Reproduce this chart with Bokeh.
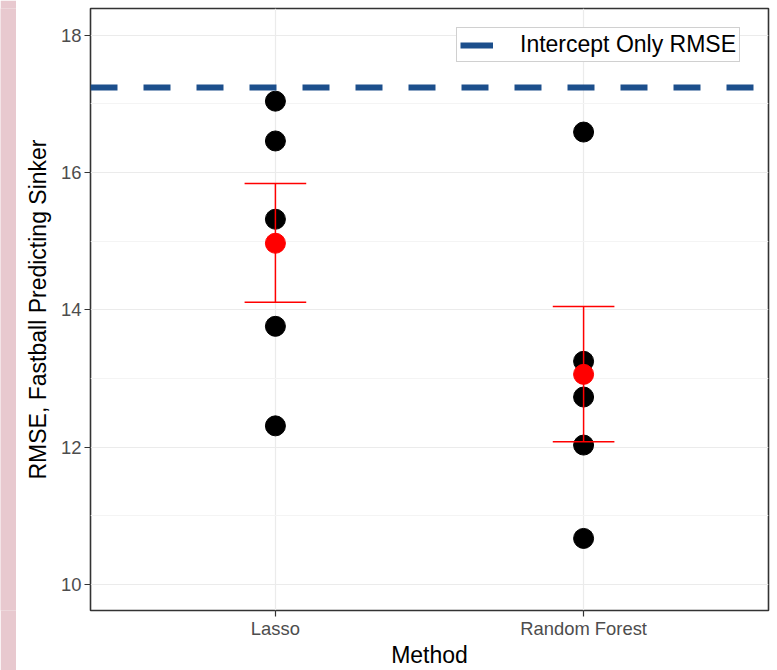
from bokeh.plotting import figure
from bokeh.models import Range1d, FixedTicker, Legend, LegendItem
from bokeh.layouts import row
from bokeh.embed import file_html
from bokeh.resources import INLINE

# ---- data ----
methods = ["Lasso", "Random Forest"]
method_pos = [1, 2]
lasso_rmse = [17.04, 16.46, 15.32, 13.76, 12.31]
rf_rmse = [16.59, 13.25, 12.73, 12.03, 10.67]
mean_rmse = [14.97, 13.06]
err_low = [14.11, 12.08]
err_high = [15.84, 14.05]
intercept_rmse = 17.24
y_ticks = [10, 12, 14, 16, 18]
y_minor = [11, 13, 15, 17]

FONT = "Liberation Sans"
X_START, X_END = 0.4, 2.6

strip = figure(width=16, height=670, toolbar_location=None, output_backend="svg",
               min_border=0, x_axis_type=None, y_axis_type=None)
strip.outline_line_color = None
strip.background_fill_color = "#e8c9cf"
strip.border_fill_color = "#e8c9cf"
strip.grid.visible = False

p = figure(width=761, height=670, toolbar_location=None, output_backend="svg",
           x_range=Range1d(X_START, X_END), y_range=Range1d(9.62, 18.39),
           min_border_left=74, min_border_right=9, min_border_top=8, min_border_bottom=60)
p.background_fill_color = "white"
p.border_fill_color = "white"
p.outline_line_color = "#333333"
p.outline_line_width = 1.6

# axes
p.xaxis.ticker = FixedTicker(ticks=method_pos)
p.xaxis.major_label_overrides = {pos: m for pos, m in zip(method_pos, methods)}
p.yaxis.ticker = FixedTicker(ticks=y_ticks, minor_ticks=y_minor)
for ax in (p.xaxis, p.yaxis):
    ax.axis_line_color = None
    ax.major_tick_line_color = "#333333"
    ax.major_tick_line_width = 1.2
    ax.major_tick_in = 0
    ax.major_tick_out = 6
    ax.minor_tick_line_color = None
    ax.major_label_text_font = FONT
    ax.major_label_text_font_size = "18.4px"
    ax.major_label_text_color = "#4d4d4d"
    ax.axis_label_text_font = FONT
    ax.axis_label_text_font_size = "23px"
    ax.axis_label_text_font_style = "normal"
    ax.axis_label_text_color = "black"
p.xaxis.axis_label = "Method"
p.yaxis.axis_label = "RMSE, Fastball Predicting Sinker"
p.xaxis.major_label_standoff = 1
p.xaxis.axis_label_standoff = 0
p.yaxis.major_label_standoff = 3
p.yaxis.axis_label_standoff = 7

# grid
p.xgrid.grid_line_color = "#ebebeb"
p.xgrid.grid_line_width = 1.2
p.ygrid.grid_line_color = "#ebebeb"
p.ygrid.grid_line_width = 1.2
p.ygrid.minor_grid_line_color = "#f4f4f4"
p.ygrid.minor_grid_line_width = 1

# points
pts_x = [method_pos[0]] * len(lasso_rmse) + [method_pos[1]] * len(rf_rmse)
pts_y = lasso_rmse + rf_rmse
p.scatter(pts_x, pts_y, size=20, color="black")

# error bars
cap = 0.1
p.segment(x0=method_pos, y0=err_low, x1=method_pos, y1=err_high, line_color="red", line_width=1.5)
p.segment(x0=[x - cap for x in method_pos], y0=err_low, x1=[x + cap for x in method_pos], y1=err_low,
          line_color="red", line_width=1.5)
p.segment(x0=[x - cap for x in method_pos], y0=err_high, x1=[x + cap for x in method_pos], y1=err_high,
          line_color="red", line_width=1.5)
p.scatter(method_pos, mean_rmse, size=20, color="red")

# intercept line
LINE_COLOR = "#1c4f8c"
p.line(x=[X_START, X_END], y=[intercept_rmse, intercept_rmse], line_color=LINE_COLOR,
       line_width=6, line_dash="27 26")
legend_glyph = p.line(x=[X_START, X_END], y=[float("nan"), float("nan")],
                      line_color=LINE_COLOR, line_width=6)

legend = Legend(items=[LegendItem(label="Intercept Only RMSE", renderers=[legend_glyph])],
                location=(366, 548))
legend.label_text_font = FONT
legend.label_text_font_size = "23px"
legend.label_text_color = "black"
legend.glyph_width = 33
legend.glyph_height = 22
legend.label_standoff = 27
legend.padding = 3
legend.margin = 0
legend.spacing = 0
legend.border_line_color = "#b0b0b0"
legend.border_line_alpha = 0.6
legend.border_line_width = 1
legend.background_fill_color = "white"
legend.background_fill_alpha = 1
p.add_layout(legend)

layout = row(strip, p, spacing=0)
open("out.html", "w").write(file_html(layout, INLINE))
